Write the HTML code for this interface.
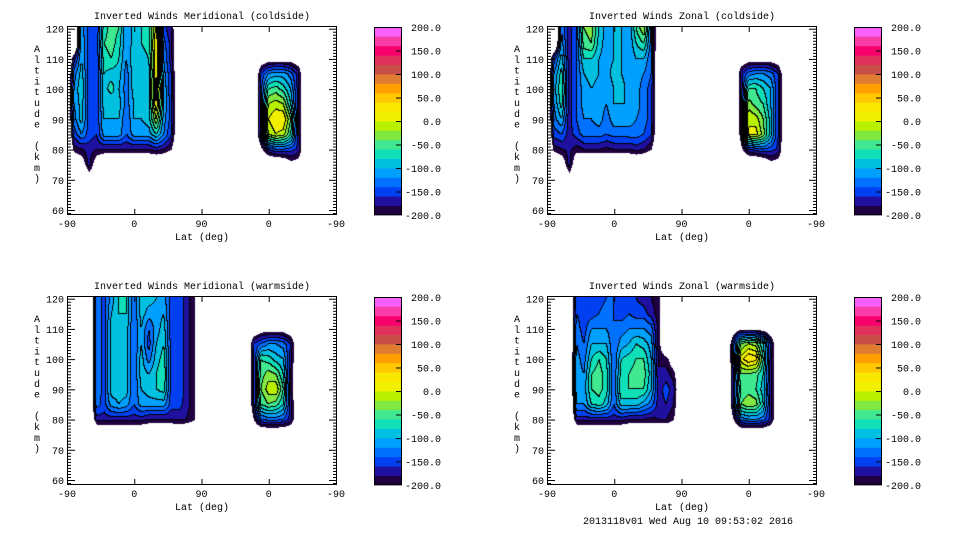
<!DOCTYPE html>
<html><head><meta charset="utf-8">
<style>
html,body{margin:0;padding:0;background:#fff;}
#root{position:relative;width:960px;height:540px;overflow:hidden;background:#fff;font-family:"Liberation Mono",monospace;}
canvas{position:absolute;}
svg{position:absolute;left:0;top:0;}
svg text{font-family:"Liberation Mono",monospace;font-size:10px;fill:#000;}
</style></head>
<body>
<div id="root">
<canvas id="c0" width="270" height="189" style="left:67px;top:26px"></canvas>
<canvas id="c1" width="270" height="189" style="left:547px;top:26px"></canvas>
<canvas id="c2" width="270" height="189" style="left:67px;top:296px"></canvas>
<canvas id="c3" width="270" height="189" style="left:547px;top:296px"></canvas>
<svg id="ov" width="960" height="540"></svg>
</div>
<script>
// ---- data ----
const titles = ["Inverted Winds Meridional (coldside)","Inverted Winds Zonal (coldside)","Inverted Winds Meridional (warmside)","Inverted Winds Zonal (warmside)"];
const xTickLabels = ["-90","0","90","0","-90"];
const yTickLabels = [60,70,80,90,100,110,120];
const cbarLabels = ["200.0","150.0","100.0","50.0","0.0","-50.0","-100.0","-150.0","-200.0"];
const levelMin = -200, levelStep = 20, nLevels = 20;
const levelColors = ["#200040","#2010a0","#0040f0","#0070ff","#00a0ff","#00c0e0","#10e0b8","#40e890","#80e840","#b8f000","#f0f000","#f8e800","#ffc800","#ffa000","#e07c30","#c84c48","#e0305c","#f8006c","#f83ca8","#f860f8"];
const footer = "2013118v01 Wed Aug 10 09:53:02 2016";

const altRowsA = [120,115,110,105,100,95,90,85,80,75,70];
const altRowsB = [115,110,105,100,95,90,85,80,75,70];
const altRowsC = [120,115,110,105,100,95,90,85,80,75];
const altRowsD = [110,105,100,95,90,85,80,75];

const tlBlock1 = [
[-260,-260,-110,-150,-160,-70,-50,-60,-120,-90,-80,-70,10,-150,-180,-260],
[-260,-260,-100,-150,-160,-60,-50,-70,-120,-90,-80,-70,20,-130,-170,-260],
[-260,-170,-100,-150,-160,-70,-60,-80,-120,-80,-90,-80,20,-120,-170,-260],
[-260,-130,-90,-150,-160,-80,-90,-90,-130,-90,-90,-90,20,-110,-160,-260],
[-260,-120,-80,-150,-160,-90,-70,-100,-130,-90,-100,-90,30,-100,-160,-260],
[-260,-120,-90,-150,-160,-90,-100,-90,-130,-100,-90,-90,20,-100,-150,-260],
[-260,-130,-90,-150,-160,-100,-100,-100,-140,-100,-100,-90,-20,-110,-150,-260],
[-260,-150,-120,-150,-160,-110,-110,-110,-140,-110,-110,-110,-80,-120,-160,-260],
[-260,-190,-180,-170,-180,-180,-180,-180,-180,-180,-180,-180,-170,-180,-200,-260],
[-260,-250,-225,-170,-230,-260,-260,-260,-260,-260,-260,-260,-260,-260,-260,-260],
[-260,-260,-260,-230,-260,-260,-260,-260,-260,-260,-260,-260,-260,-260,-260,-260]];
const tlBlock2 = [
[-260,-260,-260,-260,-260,-260,-260,-260],
[-260,-230,-220,-220,-220,-220,-230,-260],
[-260,-160,-120,-110,-110,-130,-170,-260],
[-260,-150,-60,-50,-70,-100,-170,-260],
[-260,-150,-20,-10,-20,-80,-170,-260],
[-260,-150,0,20,20,-40,-170,-260],
[-260,-150,-20,0,-10,-60,-170,-260],
[-260,-210,-160,-140,-140,-150,-165,-260],
[-260,-260,-260,-260,-250,-215,-225,-260],
[-260,-260,-260,-260,-260,-260,-260,-260]];
const trBlock1 = [
[-260,-260,-120,-170,-140,-40,-30,-80,-110,-100,-100,-120,-60,-20,-130,-260],
[-260,-260,-110,-170,-140,-50,-40,-90,-110,-100,-100,-120,-80,-60,-130,-260],
[-260,-150,-90,-170,-140,-80,-80,-100,-110,-100,-100,-120,-100,-100,-140,-260],
[-260,-120,-70,-170,-140,-100,-90,-100,-110,-90,-100,-110,-110,-120,-140,-260],
[-260,-110,-60,-170,-140,-110,-100,-110,-120,-100,-90,-110,-110,-130,-150,-260],
[-260,-120,-70,-170,-140,-110,-110,-110,-120,-100,-100,-100,-110,-130,-150,-260],
[-260,-130,-100,-170,-140,-120,-120,-110,-130,-110,-110,-110,-120,-130,-150,-260],
[-260,-150,-140,-170,-150,-130,-130,-130,-140,-130,-130,-130,-130,-140,-160,-260],
[-260,-190,-180,-175,-190,-180,-180,-180,-185,-180,-180,-180,-170,-180,-200,-260],
[-260,-250,-230,-170,-240,-260,-260,-260,-260,-260,-260,-260,-260,-260,-260,-260],
[-260,-260,-260,-225,-260,-260,-260,-260,-260,-260,-260,-260,-260,-260,-260,-260]];
const trBlock2 = [
[-260,-260,-260,-260,-260,-260,-260,-260],
[-260,-230,-220,-220,-220,-220,-230,-260],
[-260,-170,-130,-120,-120,-130,-160,-260],
[-260,-180,-60,-60,-80,-100,-160,-260],
[-260,-180,-30,-50,-60,-100,-160,-260],
[-260,-180,0,-10,-40,-90,-160,-260],
[-260,-180,0,10,-30,-90,-160,-260],
[-260,-210,-160,-150,-140,-150,-165,-260],
[-260,-260,-260,-260,-250,-215,-225,-260],
[-260,-260,-260,-260,-260,-260,-260,-260]];
const blBlock1 = [
[-260,-260,-120,-150,-110,-80,-80,-140,-90,-90,-100,-110,-150,-140,-170,-190,-260],
[-260,-260,-120,-150,-100,-80,-80,-140,-90,-110,-110,-100,-150,-140,-170,-190,-260],
[-260,-260,-120,-150,-90,-90,-90,-140,-100,-140,-110,-90,-150,-140,-170,-190,-260],
[-260,-260,-120,-150,-90,-90,-90,-140,-100,-150,-100,-80,-150,-140,-170,-190,-260],
[-260,-260,-120,-150,-90,-80,-90,-140,-90,-130,-90,-70,-150,-140,-170,-190,-260],
[-260,-260,-120,-150,-90,-80,-90,-140,-90,-100,-80,-60,-150,-140,-170,-190,-260],
[-260,-260,-120,-150,-90,-90,-90,-140,-100,-90,-80,-70,-150,-140,-170,-190,-260],
[-260,-260,-130,-150,-110,-100,-110,-140,-110,-110,-110,-110,-150,-150,-170,-190,-260],
[-260,-260,-170,-170,-170,-170,-170,-170,-170,-180,-180,-180,-180,-175,-180,-195,-260],
[-260,-260,-260,-260,-260,-260,-260,-260,-260,-260,-260,-260,-260,-260,-260,-260,-260]];
const blBlock2 = [
[-260,-240,-220,-220,-220,-220,-240,-260],
[-260,-160,-140,-120,-120,-130,-160,-260],
[-260,-170,-60,-70,-90,-100,-170,-260],
[-260,-170,-50,-30,-40,-80,-180,-260],
[-260,-170,-40,-10,0,-60,-180,-260],
[-260,-170,-60,-40,-50,-80,-170,-260],
[-260,-200,-140,-130,-130,-140,-170,-260],
[-260,-260,-260,-260,-260,-260,-260,-260]];
const brBlock1 = [
[-260,-260,-150,-160,-160,-150,-140,-140,-160,-160,-160,-170,-180,-190,-260,-260,-260],
[-260,-260,-140,-150,-150,-140,-130,-140,-150,-140,-150,-150,-170,-190,-260,-260,-260],
[-260,-260,-130,-150,-120,-120,-120,-140,-130,-120,-120,-120,-130,-190,-260,-260,-260],
[-260,-260,-120,-140,-100,-100,-100,-140,-110,-100,-80,-90,-110,-190,-260,-260,-260],
[-260,-260,-110,-130,-80,-60,-80,-140,-80,-70,-60,-60,-100,-180,-190,-230,-260],
[-260,-260,-110,-120,-60,-50,-70,-140,-70,-60,-50,-50,-90,-180,-170,-190,-260],
[-260,-260,-110,-110,-60,-50,-70,-140,-60,-60,-60,-60,-100,-170,-150,-170,-260],
[-260,-260,-120,-120,-80,-70,-90,-140,-90,-90,-90,-110,-130,-170,-160,-180,-260],
[-260,-260,-170,-170,-170,-170,-170,-170,-170,-180,-180,-180,-185,-180,-180,-200,-260],
[-260,-260,-260,-260,-260,-260,-260,-260,-260,-260,-260,-260,-260,-260,-260,-260,-260]];
const brBlock2 = [
[-260,-230,-210,-210,-210,-220,-240,-260],
[-260,-150,-40,-20,-30,-80,-160,-260],
[-260,-150,10,40,30,-60,-170,-260],
[-260,-160,-40,-40,-50,-80,-170,-260],
[-260,-160,-60,-50,-60,-90,-170,-260],
[-260,-160,-40,-20,-30,-80,-170,-260],
[-260,-200,-130,-120,-120,-130,-170,-260],
[-260,-260,-260,-260,-260,-260,-260,-260]];

const panels = [
 {dx:0,dy:0,blocks:[{u0:0,du:10,alts:altRowsA,v:tlBlock1},{u0:250,du:10,alts:altRowsB,v:tlBlock2}]},
 {dx:480,dy:0,blocks:[{u0:0,du:10,alts:altRowsA,v:trBlock1},{u0:250,du:10,alts:altRowsB,v:trBlock2}]},
 {dx:0,dy:270,blocks:[{u0:20,du:10,alts:altRowsC,v:blBlock1},{u0:240,du:10,alts:altRowsD,v:blBlock2}]},
 {dx:480,dy:270,blocks:[{u0:20,du:10,alts:altRowsC,v:brBlock1},{u0:240,du:10,alts:altRowsD,v:brBlock2}]}
];

const PX0=67, PY0=26, PW=270, PH=189;
function xOfU(u){return u*0.7472;}
function uOfX(x){return x/0.7472;}
function yOfAlt(a){return 184-(a-60)*3.0217;}
function altOfY(y){return 60+(184-y)/3.0217;}

function sample(b,u,alt){
  const nc=b.v[0].length, nr=b.alts.length;
  const uMax=b.u0+(nc-1)*b.du;
  if(u<b.u0||u>uMax) return null;
  const top=b.alts[0], bot=b.alts[nr-1], da=top-b.alts[1];
  let a=Math.min(top,Math.max(bot,alt));
  const fc=(u-b.u0)/b.du, fr=(top-a)/da;
  const c0=Math.min(nc-2,Math.floor(fc)), r0=Math.min(nr-2,Math.floor(fr));
  const tc=fc-c0, tr=fr-r0;
  const v00=b.v[r0][c0],v01=b.v[r0][c0+1],v10=b.v[r0+1][c0],v11=b.v[r0+1][c0+1];
  return (v00*(1-tc)+v01*tc)*(1-tr)+(v10*(1-tc)+v11*tc)*tr;
}
function hex(h){return [parseInt(h.substr(1,2),16),parseInt(h.substr(3,2),16),parseInt(h.substr(5,2),16)];}
const rgb=levelColors.map(hex);

panels.forEach((p,i)=>{
  const cv=document.getElementById('c'+i), ctx=cv.getContext('2d');
  const img=ctx.createImageData(PW,PH);
  const lv=new Int16Array(PW*PH);
  for(let y=0;y<PH;y++){const alt=altOfY(y+0.5);
    for(let x=0;x<PW;x++){const u=uOfX(x+0.5);let v=null;
      for(const b of p.blocks){const s=sample(b,u,alt);if(s!==null){v=s;break;}}
      let L=-1;
      if(v!==null&&v>=levelMin){L=Math.min(nLevels-1,Math.floor((v-levelMin)/levelStep));}
      lv[y*PW+x]=L;}}
  for(let y=0;y<PH;y++)for(let x=0;x<PW;x++){
    const k=y*PW+x,L=lv[k],o=k*4;
    if(L<0){img.data[o]=255;img.data[o+1]=255;img.data[o+2]=255;img.data[o+3]=255;continue;}
    let edge=(x+1<PW&&lv[k+1]!==L&&lv[k+1]>=0)||(y+1<PH&&lv[k+PW]!==L&&lv[k+PW]>=0);
    const c=edge?[0,0,0]:rgb[L];
    img.data[o]=c[0];img.data[o+1]=c[1];img.data[o+2]=c[2];img.data[o+3]=255;}
  ctx.putImageData(img,0,0);
});

const NS='http://www.w3.org/2000/svg', ov=document.getElementById('ov');
function el(tag,attrs,parent){const e=document.createElementNS(NS,tag);for(const k in attrs)e.setAttribute(k,attrs[k]);(parent||ov).appendChild(e);return e;}
panels.forEach((p,i)=>{
  const g=el('g',{transform:`translate(${p.dx},${p.dy})`});
  
  
  const fr=el('rect',{x:PX0+0.5,y:PY0+0.5,width:PW-1,height:PH-1,fill:'none',stroke:'#000','stroke-width':1},g);
  
  
  const t=el('text',{x:PX0+PW/2,y:PY0-7,'text-anchor':'middle'},g);t.textContent=titles[i];
  
  
  xTickLabels.forEach((lab,j)=>{const x=PX0+xOfU(j*90);
    el('line',{x1:x+0.5,y1:PY0+PH,x2:x+0.5,y2:PY0+PH-6,stroke:'#000'},g);
    el('line',{x1:x+0.5,y1:PY0,x2:x+0.5,y2:PY0+6,stroke:'#000'},g);
    const tx=el('text',{x:x,y:PY0+PH+12,'text-anchor':'middle'},g);tx.textContent=lab;
    
    });
  for(let a=59;a<=120;a++){const y=PY0+yOfAlt(a)+0.5;const len=(a%10===0)?8:4;
    el('line',{x1:PX0,y1:y,x2:PX0+len,y2:y,stroke:'#000'},g);
    el('line',{x1:PX0+PW,y1:y,x2:PX0+PW-len,y2:y,stroke:'#000'},g);}
  yTickLabels.forEach(a=>{const ty=el('text',{x:PX0-3,y:PY0+yOfAlt(a)+4,'text-anchor':'end'},g);ty.textContent=a;
    
    });
  const xt=el('text',{x:PX0+PW/2,y:PY0+PH+25,'text-anchor':'middle'},g);xt.textContent='Lat (deg)';
  
  
  const yt=el('text',{x:37,y:PY0+26,'text-anchor':'middle'},g);
  
  
  'Altitude (km)'.split('').forEach((ch,k)=>{const ts=el('tspan',{x:37,y:PY0+26+k*10.8},yt);ts.textContent=ch;});
  const cb=el('g',{},g);
  
  
  const cx=374,cy=27,cw=28,ch=188,bh=ch/nLevels;
  levelColors.forEach((c,k)=>{const r=el('rect',{x:cx,y:cy+ch-(k+1)*bh,width:cw,height:bh+0.4,fill:c},cb);
    
    });
  el('rect',{x:cx+0.5,y:cy+0.5,width:cw-1,height:ch-1,fill:'none',stroke:'#000'},cb);
  cbarLabels.forEach((lab,k)=>{const y=cy+k*ch/(cbarLabels.length-1);
    if(k>0&&k<cbarLabels.length-1)el('line',{x1:cx+cw-6,y1:y+0.5,x2:cx+cw,y2:y+0.5,stroke:'#000'},cb);
    const tl=el('text',{x:441,y:y+4,'text-anchor':'end'},cb);tl.textContent=lab;
    
    });
});
const ft=el('text',{x:688,y:524,'text-anchor':'middle'});ft.textContent=footer;


</script>
</body></html>
